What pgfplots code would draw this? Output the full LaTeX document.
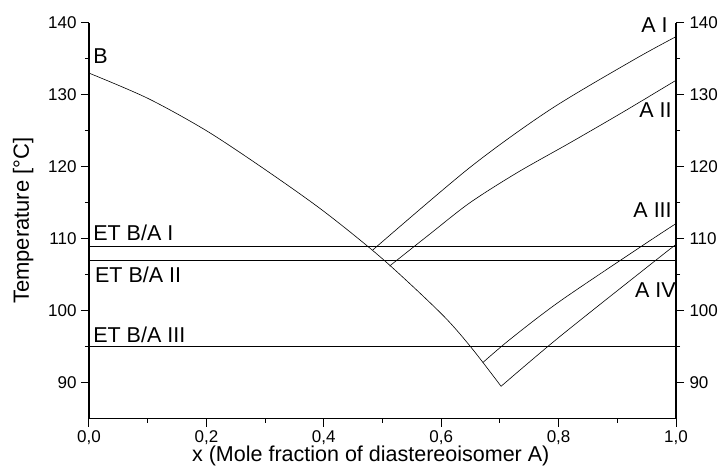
\documentclass[border=0pt]{standalone}
\usepackage{fontspec}
\setmainfont{Liberation Sans}
\usepackage{pgfplots}
\pgfplotsset{compat=1.18}
\begin{document}
\begin{tikzpicture}
\pgfplotsset{
  common/.style={
    scale only axis, width=587pt, height=396pt,
    xmin=0, xmax=1, ymin=85, ymax=140,
    tick align=outside,
    major tick length=8pt, minor tick length=4pt,
    ytick={90,100,...,140}, minor y tick num=1,
    xtick={0,0.2,...,1.0}, minor x tick num=1,
    axis line style={line width=1.3pt,-},
    every tick/.style={line width=1pt,black},
    tick label style={font=\fontsize{17}{19}\selectfont},
    /pgf/number format/assume math mode=true,
    clip=false,
  }
}
\begin{axis}[common,
  axis x line*=bottom, axis y line*=left,
  xticklabel style={/pgf/number format/.cd, fixed, fixed zerofill, precision=1, use comma},
  yticklabel style={xshift=-1pt},
  xlabel={x (Mole fraction of diastereoisomer A)},
  ylabel={Temperature [°C]},
  xlabel style={font=\fontsize{21.5}{25}\selectfont, at={(axis description cs:0.48,0)}, anchor=base, yshift=-43pt},
  ylabel style={font=\fontsize{22}{25}\selectfont, at={(axis description cs:-0.112,0.5)}, anchor=center},
]
% eutectic lines
\addplot[black, line width=0.6pt] coordinates {(0,109) (1,109)};
\addplot[black, line width=0.6pt] coordinates {(0,107) (1,107)};
\addplot[black, line width=0.6pt] coordinates {(0,95) (1,95)};
% B liquidus
\addplot[black, line width=0.6pt, smooth] coordinates {
 (0,133.0) (0.1,129.5) (0.2,125.0) (0.3,119.6) (0.4,113.8)
 (0.5,107.2) (0.6,99.6) (0.65,95.0) (0.702,89.5)};
% A I
\addplot[black, line width=0.6pt, smooth] coordinates {
 (0.483,108.4) (0.649,119.9) (0.785,127.9) (0.927,134.8) (1,138.06)};
% A II
\addplot[black, line width=0.6pt, smooth] coordinates {
 (0.512,106.2) (0.58,110.6) (0.649,115.0) (0.73,119.2) (0.819,123.3) (0.91,127.6) (1,132.0)};
% A III
\addplot[black, line width=0.6pt, smooth] coordinates {
 (0.671,92.8) (0.717,96.0) (0.802,101.3) (0.944,109.1) (1,112.1)};
% A IV
\addplot[black, line width=0.6pt, smooth] coordinates {
 (0.702,89.5) (0.802,96.4) (0.967,107.1) (1,109.2)};
\begin{scope}[every node/.style={font=\fontsize{21.5}{25}\selectfont, inner sep=0pt}]
\node[anchor=base west] at (axis cs:0.007,134.4) {B};
\node[anchor=base east] at (axis cs:0.986,138.7) {A I};
\node[anchor=base east] at (axis cs:0.993,126.9) {A II};
\node[anchor=base east] at (axis cs:0.993,112.9) {A III};
\node[anchor=base east] at (axis cs:1.0,101.8) {A IV};
\node[anchor=base west] at (axis cs:0.007,109.7) {ET B/A I};
\node[anchor=base west] at (axis cs:0.010,103.9) {ET B/A II};
\node[anchor=base west] at (axis cs:0.007,95.6) {ET B/A III};
\end{scope}
\end{axis}
\begin{axis}[common,
  axis x line=none, axis y line*=right,
  yticklabel pos=right,
  yticklabel style={xshift=2pt},
]
\addplot[draw=none] coordinates {(0,90)};
\end{axis}
\pgfresetboundingbox
\path ([shift={(-89pt,-49pt)}]current axis.south west) rectangle ([shift={(43pt,22.7pt)}]current axis.north east);
\end{tikzpicture}
\end{document}
